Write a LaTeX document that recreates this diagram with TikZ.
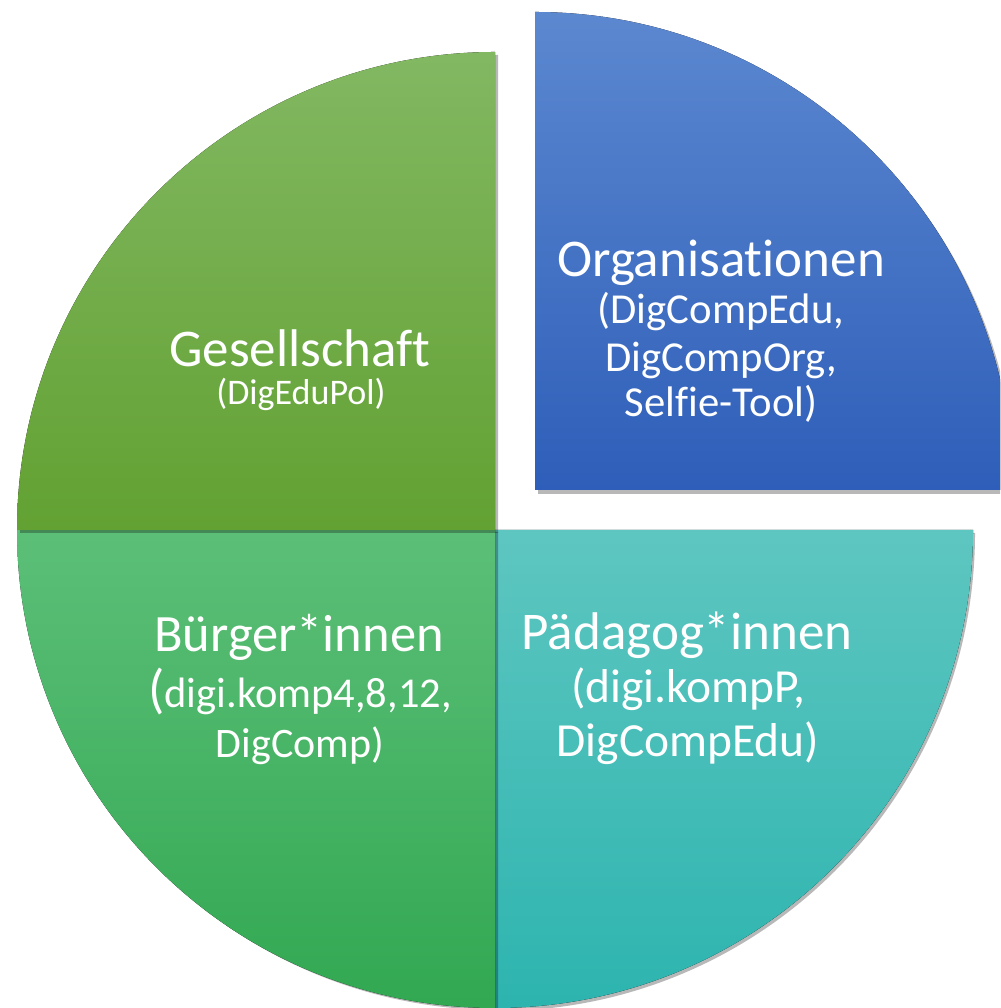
\documentclass[tikz,border=0pt]{standalone}
\usepackage{fontspec}
\setmainfont{Carlito}[Ligatures=NoCommon]
\definecolor{tlTop}{HTML}{82B862}
\definecolor{tlBot}{HTML}{62A132}
\definecolor{blTop}{HTML}{5CBF78}
\definecolor{blBot}{HTML}{32A852}
\definecolor{brTop}{HTML}{5EC6C0}
\definecolor{brBot}{HTML}{2DB4AF}
\definecolor{trTop}{HTML}{5C88D0}
\definecolor{trBot}{HTML}{2E5EB9}
\newcommand{\fs}[1]{\fontsize{#1}{#1}\selectfont}
\begin{document}
\begin{tikzpicture}[x=1pt,y=1pt,
  lbl/.style={anchor=base,text=white,inner sep=0pt},
  shade/.style={fill=black,opacity=0.28}]
\useasboundingbox (0,0) rectangle (1000,1008);
\clip (0,0) rectangle (1000,1008);
% bottom-right (teal)
\fill[shade,xshift=2pt,yshift=-3pt] (495,478) -- (973,478) arc[start angle=0,end angle=-90,radius=478pt] -- cycle;
\fill[top color=brTop,bottom color=brBot] (495,478) -- (973,478) arc[start angle=0,end angle=-90,radius=478pt] -- cycle;
% bottom-left (green)
\fill[shade,xshift=3pt,yshift=-2pt] (495,478) -- (495,0) arc[start angle=270,end angle=180,radius=478pt] -- cycle;
\fill[top color=blTop,bottom color=blBot] (495,478) -- (495,0) arc[start angle=270,end angle=180,radius=478pt] -- cycle;
% top-left (olive green)
\fill[shade,xshift=3pt,yshift=-3pt] (495,478) -- (17,478) arc[start angle=180,end angle=90,radius=478pt] -- cycle;
\fill[top color=tlTop,bottom color=tlBot] (495,478) -- (17,478) arc[start angle=180,end angle=90,radius=478pt] -- cycle;
% top-right (blue, exploded)
\fill[shade,xshift=3pt,yshift=-4pt] (535,518) -- (535,996) arc[start angle=90,end angle=0,radius=478pt] -- cycle;
\fill[top color=trTop,bottom color=trBot] (535,518) -- (535,996) arc[start angle=90,end angle=0,radius=478pt] -- cycle;
% labels
\node[lbl,font=\fs{53}] (org) at (721,731) {Organisationen};
\node[lbl,font=\fs{42.7}] (org1) at (721,684) {(DigCompEdu,};
\node[lbl,font=\fs{42.7}] (org2) at (721,636) {DigCompOrg,};
\node[lbl,font=\fs{42.7}] (org3) at (721,591) {Selfie-Tool)};
\node[lbl,font=\fs{53}] (ges) at (300,641) {Gesellschaft};
\node[lbl,font=\fs{36}] (ges1) at (301,603) {(DigEduPol)};
\node[lbl,font=\fs{52.5}] (bue) at (299,356) {Bürger*innen};
\node[lbl,font=\fs{42.5}] (bue1) at (300,300) {{\fs{54}(}digi.komp4,8,12,};
\node[lbl,font=\fs{42}] (bue2) at (300,250) {DigComp)};
\node[lbl,font=\fs{53}] (pae) at (687,358) {Pädagog*innen};
\node[lbl,font=\fs{47.5}] (pae1) at (688,305) {(digi.kompP,};
\node[lbl,font=\fs{47.5}] (pae2) at (688,251) {DigCompEdu)};
\end{tikzpicture}
\end{document}
